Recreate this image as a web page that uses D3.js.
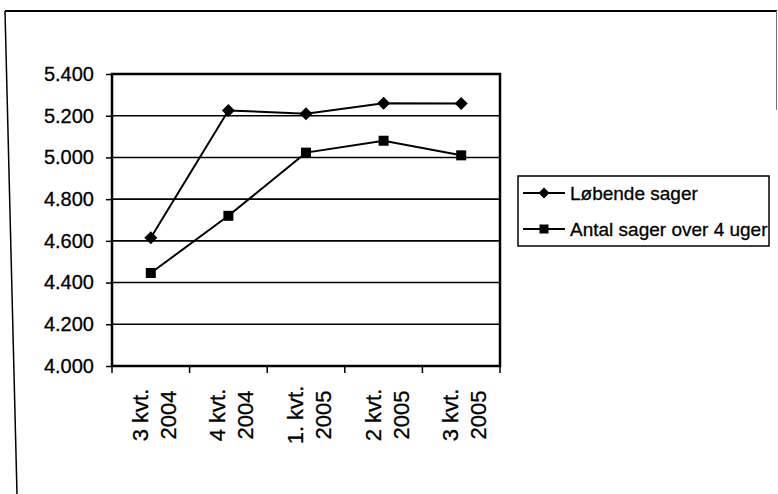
<!DOCTYPE html>
<html>
<head>
<meta charset="utf-8">
<script src="https://cdn.jsdelivr.net/npm/d3@7"></script>
<style>
  body { margin: 0; background: #fff; }
  svg text { font-family: "Liberation Sans", Arial, sans-serif; fill: #000; stroke: #000; stroke-width: 0.3px; }
</style>
</head>
<body>
<div id="chart"></div>
<script>
// quarters on the x axis, two lines each
var quarters = ["3 kvt. 2004", "4 kvt. 2004", "1. kvt. 2005", "2 kvt. 2005", "3 kvt. 2005"];
var quarterLines = [["3 kvt.", "2004"], ["4 kvt.", "2004"], ["1. kvt.", "2005"], ["2 kvt.", "2005"], ["3 kvt.", "2005"]];
var lobendeSager = [4615, 5225, 5210, 5260, 5258];
var antalOver4Uger = [4446, 4720, 5023, 5080, 5010];
var seriesNames = ["Løbende sager", "Antal sager over 4 uger"];
var yTicks = [4000, 4200, 4400, 4600, 4800, 5000, 5200, 5400];

var width = 778, height = 494;
var plot = {left: 112, right: 500, top: 74, bottom: 366};

var svg = d3.select("#chart").append("svg")
    .attr("width", width)
    .attr("height", height);

// outer chart frame (scan shows top + left, right only faintly)
svg.append("line").attr("x1", 5).attr("y1", 11).attr("x2", 777).attr("y2", 11)
    .attr("stroke", "#000").attr("stroke-width", 2);
svg.append("line").attr("x1", 5).attr("y1", 11).attr("x2", 17).attr("y2", 494)
    .attr("stroke", "#000").attr("stroke-width", 1.5);
svg.append("line").attr("x1", 776.5).attr("y1", 11).attr("x2", 776.5).attr("y2", 110)
    .attr("stroke", "#777").attr("stroke-width", 1);

var x = d3.scaleBand()
    .domain(quarters)
    .range([plot.left, plot.right]);

var y = d3.scaleLinear()
    .domain([4000, 5400])
    .range([plot.bottom, plot.top]);

// gridlines
svg.append("g")
  .selectAll("line")
  .data(yTicks)
  .enter().append("line")
    .attr("x1", plot.left)
    .attr("x2", plot.right)
    .attr("y1", function(d) { return y(d); })
    .attr("y2", function(d) { return y(d); })
    .attr("stroke", "#000")
    .attr("stroke-width", 1.6);

// plot border
svg.append("rect")
    .attr("x", plot.left)
    .attr("y", plot.top)
    .attr("width", plot.right - plot.left)
    .attr("height", plot.bottom - plot.top)
    .attr("fill", "none")
    .attr("stroke", "#000")
    .attr("stroke-width", 2.5);

// y axis
var yAxis = svg.append("g")
    .attr("transform", "translate(" + plot.left + ",0)")
    .call(d3.axisLeft(y).tickValues(yTicks).tickSize(6).tickPadding(12)
      .tickFormat(function(d) { return d3.format(",")(d).replace(",", "."); }));
yAxis.select(".domain").remove();
yAxis.selectAll("line").attr("stroke", "#000").attr("stroke-width", 1.5);
yAxis.selectAll("text").style("font-size", "20px");

// x axis ticks on category boundaries
var bounds = quarters.map(function(q) { return x(q); }).concat([plot.right]);
svg.append("g")
  .selectAll("line")
  .data(bounds)
  .enter().append("line")
    .attr("x1", function(d) { return d; })
    .attr("x2", function(d) { return d; })
    .attr("y1", plot.bottom)
    .attr("y2", plot.bottom + 7)
    .attr("stroke", "#000")
    .attr("stroke-width", 1.5);

// rotated x labels
var xl = svg.append("g")
  .selectAll("text")
  .data(quarters)
  .enter().append("text")
    .attr("transform", function(d) {
      return "translate(" + (x(d) + x.bandwidth() / 2 - 3) + ",415) rotate(-90)";
    })
    .attr("text-anchor", "middle")
    .style("font-size", "22px");
xl.selectAll("tspan")
  .data(function(d, i) { return quarterLines[i]; })
  .enter().append("tspan")
    .attr("x", 0)
    .attr("y", function(d, i) { return i * 28; })
    .text(function(d) { return d; });

var line = d3.line()
    .x(function(d, i) { return x(quarters[i]) + x.bandwidth() / 2; })
    .y(function(d) { return y(d); });

function diamond(sel, cx, cy, r) {
  sel.append("path")
    .attr("d", "M" + cx + "," + (cy - r) + "L" + (cx + r) + "," + cy + "L" + cx + "," + (cy + r) + "L" + (cx - r) + "," + cy + "Z")
    .attr("fill", "#000");
}
function square(sel, cx, cy, r) {
  sel.append("rect")
    .attr("x", cx - r).attr("y", cy - r)
    .attr("width", 2 * r).attr("height", 2 * r)
    .attr("fill", "#000");
}

var series = [
  {name: seriesNames[0], values: lobendeSager, marker: diamond},
  {name: seriesNames[1], values: antalOver4Uger, marker: square}
];

series.forEach(function(s) {
  var g = svg.append("g");
  g.append("path")
    .attr("d", line(s.values))
    .attr("fill", "none")
    .attr("stroke", "#000")
    .attr("stroke-width", 2);
  s.values.forEach(function(v, i) {
    s.marker(g, x(quarters[i]) + x.bandwidth() / 2, y(v), s.marker === diamond ? 6.5 : 5);
  });
});

// legend
var legend = svg.append("g");
legend.append("rect")
    .attr("x", 518).attr("y", 176)
    .attr("width", 251).attr("height", 70)
    .attr("fill", "#fff")
    .attr("stroke", "#000")
    .attr("stroke-width", 1.5);

series.forEach(function(s, i) {
  var ly = 193 + i * 36;
  legend.append("line")
    .attr("x1", 523).attr("x2", 565)
    .attr("y1", ly).attr("y2", ly)
    .attr("stroke", "#000").attr("stroke-width", 1.8);
  s.marker(legend, 544, ly, s.marker === diamond ? 5.5 : 4.5);
  legend.append("text")
    .attr("x", 570)
    .attr("y", ly)
    .attr("dy", "0.35em")
    .style("font-size", "19px")
    .text(s.name);
});
</script>
</body>
</html>
